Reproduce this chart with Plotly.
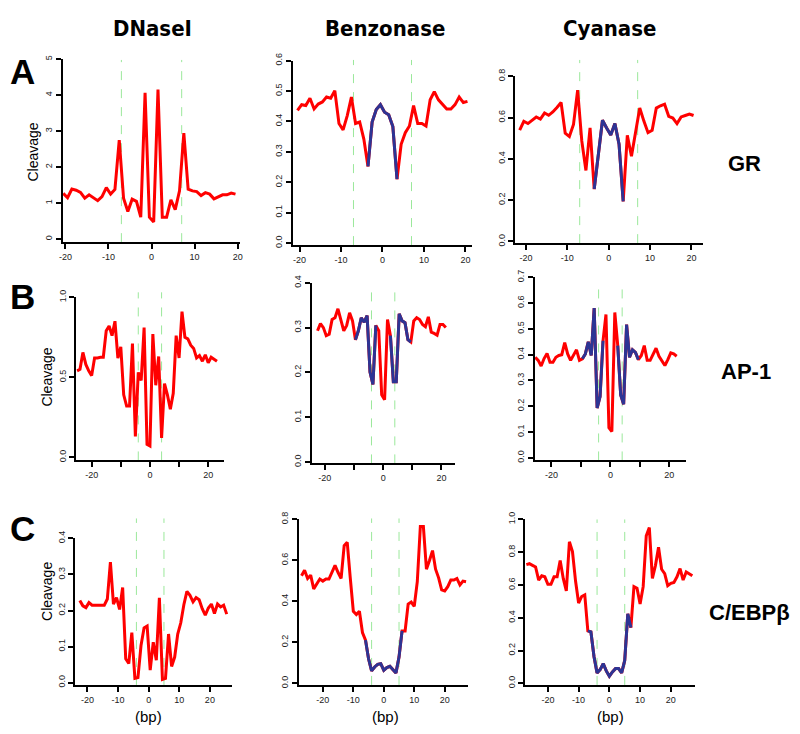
import numpy as np
import plotly.graph_objects as go

PAGE_W, PAGE_H = 800, 734
OFF = 8                      # default body margin of the html page
W, H = PAGE_W - 2 * OFF, PAGE_H - 2 * OFF

# ---------------- data ----------------
# GR motif
GR_DNASE_START = -20.5
GR_DNASE = [1.27, 1.15, 1.39, 1.36, 1.30, 1.14, 1.23, 1.16, 1.07, 1.18,
            1.43, 1.25, 1.38, 2.75, 1.14, 0.77, 1.11, 1.05, 0.61, 4.06,
            0.61, 0.48, 4.15, 0.61, 0.61, 1.09, 0.82, 1.34, 2.94, 1.39,
            1.34, 1.32, 1.21, 1.29, 1.25, 1.12, 1.18, 1.23, 1.23, 1.28, 1.25]

GR_BENZ_START = -20.5
GR_BENZ = [0.436, 0.455, 0.452, 0.476, 0.441, 0.457, 0.464, 0.480, 0.476, 0.501,
           0.393, 0.372, 0.419, 0.480, 0.393, 0.398, 0.342, 0.252, 0.398, 0.439,
           0.455, 0.430, 0.422, 0.383, 0.210, 0.325, 0.363, 0.385, 0.452, 0.393,
           0.393, 0.385, 0.471, 0.498, 0.471, 0.455, 0.441, 0.441, 0.455, 0.480,
           0.462, 0.466]

GR_CYAN_START = -21.5
GR_CYAN = [0.539, 0.582, 0.571, 0.587, 0.603, 0.593, 0.622, 0.611, 0.627, 0.649,
           0.673, 0.524, 0.508, 0.567, 0.733, 0.487, 0.344, 0.550, 0.254, 0.420,
           0.587, 0.550, 0.516, 0.571, 0.471, 0.194, 0.514, 0.413, 0.535, 0.646,
           0.583, 0.527, 0.538, 0.646, 0.657, 0.665, 0.606, 0.598, 0.571, 0.603,
           0.610, 0.617, 0.610]

# AP-1 motif
AP1_DNASE_START = -25
AP1_DNASE = [0.54, 0.55, 0.655, 0.58, 0.54, 0.51, 0.62, 0.62, 0.625, 0.625,
             0.79, 0.82, 0.76, 0.85, 0.62, 0.69, 0.39, 0.32, 0.32, 0.71,
             0.13, 0.53, 0.48, 0.81, 0.08, 0.07, 0.77, 0.45, 0.63, 0.12,
             0.46, 0.39, 0.30, 0.40, 0.76, 0.62, 0.91, 0.75, 0.74, 0.70,
             0.68, 0.62, 0.635, 0.60, 0.64, 0.59, 0.625, 0.61, 0.60]

AP1_BENZ_START = -22.5
AP1_BENZ = [0.293, 0.309, 0.300, 0.282, 0.285, 0.318, 0.322, 0.342, 0.317, 0.293,
            0.305, 0.333, 0.315, 0.273, 0.293, 0.322, 0.312, 0.327, 0.201, 0.173,
            0.305, 0.293, 0.150, 0.139, 0.318, 0.282, 0.179, 0.179, 0.331, 0.315,
            0.311, 0.273, 0.268, 0.315, 0.322, 0.318, 0.307, 0.302, 0.324, 0.290,
            0.287, 0.283, 0.307, 0.307, 0.300]

AP1_CYAN_START = -25.5
AP1_CYAN = [0.390, 0.378, 0.356, 0.385, 0.405, 0.371, 0.371, 0.390, 0.397, 0.400,
            0.447, 0.403, 0.378, 0.397, 0.419, 0.378, 0.384, 0.403, 0.450, 0.397,
            0.581, 0.193, 0.238, 0.454, 0.556, 0.117, 0.102, 0.564, 0.435, 0.244,
            0.208, 0.517, 0.390, 0.419, 0.409, 0.381, 0.397, 0.435, 0.378, 0.378,
            0.403, 0.425, 0.394, 0.378, 0.358, 0.381, 0.407, 0.403, 0.394]

# C/EBPbeta motif
CEBP_DNASE_START = -22.5
CEBP_DNASE = [0.228, 0.213, 0.208, 0.222, 0.215, 0.215, 0.215, 0.213, 0.215, 0.232,
              0.334, 0.218, 0.236, 0.203, 0.264, 0.066, 0.053, 0.139, 0.012, 0.014,
              0.103, 0.152, 0.157, 0.035, 0.112, 0.062, 0.235, 0.009, 0.012, 0.135,
              0.045, 0.071, 0.135, 0.166, 0.216, 0.253, 0.242, 0.224, 0.236, 0.230,
              0.205, 0.187, 0.207, 0.218, 0.192, 0.218, 0.210, 0.215, 0.190]

CEBP_BENZ_START = -27
CEBP_BENZ = [0.525, 0.552, 0.512, 0.528, 0.461, 0.483, 0.509, 0.499, 0.509, 0.509,
             0.547, 0.576, 0.541, 0.512, 0.672, 0.688, 0.515, 0.352, 0.336, 0.352,
             0.248, 0.211, 0.120, 0.061, 0.080, 0.093, 0.096, 0.064, 0.077, 0.083,
             0.067, 0.051, 0.128, 0.256, 0.256, 0.387, 0.397, 0.376, 0.496, 0.765,
             0.765, 0.557, 0.600, 0.648, 0.557, 0.515, 0.456, 0.451, 0.472, 0.504,
             0.504, 0.512, 0.480, 0.499, 0.496]

CEBP_CYAN_START = -27
CEBP_CYAN = [0.724, 0.730, 0.720, 0.710, 0.630, 0.656, 0.650, 0.604, 0.604, 0.650,
             0.650, 0.750, 0.640, 0.564, 0.864, 0.804, 0.624, 0.490, 0.530, 0.540,
             0.320, 0.314, 0.164, 0.064, 0.084, 0.120, 0.076, 0.044, 0.070, 0.090,
             0.090, 0.064, 0.140, 0.424, 0.340, 0.590, 0.580, 0.484, 0.590, 0.900,
             0.950, 0.640, 0.720, 0.830, 0.696, 0.670, 0.596, 0.610, 0.616, 0.650,
             0.700, 0.630, 0.680, 0.670, 0.656]

# protected (blue) stretches and motif borders (green dashed lines)
GR_BLUE = [(-3.5, 3.5)]
AP1_BLUE = [(-9.5, -2.5), (2.5, 9.5)]
CEBP_BENZ_BLUE = [(-6, 6)]
CEBP_CYAN_BLUE = [(-7, 7)]
GR_MOTIF = [-7, 7]
AP1_MOTIF = [-4, 4]
CEBP_MOTIF = [-4, 5]

X_TICKS = [-20, -10, 0, 10, 20]
X_LABELS_FULL = ["-20", "-10", "0", "10", "20"]
X_LABELS_SPARSE = ["-20", "", "0", "", "20"]

COLUMNS = ["DNaseI", "Benzonase", "Cyanase"]
ROWS = ["A", "B", "C"]
FACTORS = ["GR", "AP-1", "C/EBPβ"]

RED = "#FF0000"
BLUE = "#2D3494"
GREEN = "#9BE89B"
FONT = "Liberation Sans, Arial, sans-serif"
NARROW = "DejaVu Sans Condensed, Liberation Sans, sans-serif"

# ------- panel layout (page pixel boxes: L, R, T, B; gtop = top of motif lines) -------
panels = [
    dict(start=GR_DNASE_START, vals=GR_DNASE, blue=[], motif=GR_MOTIF,
         yt=[0, 1, 2, 3, 4, 5], yl=["0", "1", "2", "3", "4", "5"], xl=X_LABELS_FULL,
         box=(59, 238, 51.7, 238), gtop=52.7, xr=[-20.65, 20.6], yr=[-0.082, 5.0]),
    dict(start=GR_BENZ_START, vals=GR_BENZ, blue=GR_BLUE, motif=GR_MOTIF,
         yt=[0, 0.1, 0.2, 0.3, 0.4, 0.5, 0.6], yl=["0.0", "0.1", "0.2", "0.3", "0.4", "0.5", "0.6"],
         xl=X_LABELS_FULL, box=(290.7, 472, 53.3, 241), gtop=52.7,
         xr=[-21.7, 21.7], yr=[-0.0065, 0.6]),
    dict(start=GR_CYAN_START, vals=GR_CYAN, blue=GR_BLUE, motif=GR_MOTIF,
         yt=[0, 0.2, 0.4, 0.6, 0.8], yl=["0.0", "0.2", "0.4", "0.6", "0.8"],
         xl=X_LABELS_FULL, box=(515, 704, 69.3, 239), gtop=52.7,
         xr=[-22.6, 22.7], yr=[-0.008, 0.8]),
    dict(start=AP1_DNASE_START, vals=AP1_DNASE, blue=[], motif=AP1_MOTIF,
         yt=[0, 0.5, 1.0], yl=["0.0", "0.5", "1.0"],
         xl=X_LABELS_SPARSE, box=(72.7, 221.3, 294, 460), gtop=289,
         xr=[-25.3, 25.3], yr=[-0.02, 1.0]),
    dict(start=AP1_BENZ_START, vals=AP1_BENZ, blue=AP1_BLUE, motif=AP1_MOTIF,
         yt=[0, 0.1, 0.2, 0.3, 0.4], yl=["0.0", "0.1", "0.2", "0.3", "0.4"],
         xl=X_LABELS_SPARSE, box=(310, 454, 279.3, 463), gtop=283,
         xr=[-24.5, 24.5], yr=[-0.0029, 0.4]),
    dict(start=AP1_CYAN_START, vals=AP1_CYAN, blue=AP1_BLUE, motif=AP1_MOTIF,
         yt=[0, 0.1, 0.2, 0.3, 0.4, 0.5, 0.6, 0.7],
         yl=["0.0", "0.1", "0.2", "0.3", "0.4", "0.5", "0.6", "0.7"],
         xl=X_LABELS_SPARSE, box=(535, 687, 273.8, 460), gtop=283,
         xr=[-25.6, 25.6], yr=[-0.0103, 0.7]),
    dict(start=CEBP_DNASE_START, vals=CEBP_DNASE, blue=[], motif=CEBP_MOTIF,
         yt=[0, 0.1, 0.2, 0.3, 0.4], yl=["0.0", "0.1", "0.2", "0.3", "0.4"],
         xl=X_LABELS_FULL, box=(71.7, 229.6, 539.3, 688.3), gtop=519,
         xr=[-24, 27.2], yr=[-0.0063, 0.4]),
    dict(start=CEBP_BENZ_START, vals=CEBP_BENZ, blue=CEBP_BENZ_BLUE, motif=CEBP_MOTIF,
         yt=[0, 0.2, 0.4, 0.6, 0.8], yl=["0.0", "0.2", "0.4", "0.6", "0.8"],
         xl=X_LABELS_FULL, box=(297.3, 468, 520, 688.3), gtop=519,
         xr=[-27.8, 27.8], yr=[-0.0077, 0.8]),
    dict(start=CEBP_CYAN_START, vals=CEBP_CYAN, blue=CEBP_CYAN_BLUE, motif=CEBP_MOTIF,
         yt=[0, 0.2, 0.4, 0.6, 0.8, 1.0], yl=["0.0", "0.2", "0.4", "0.6", "0.8", "1.0"],
         xl=X_LABELS_FULL, box=(525.4, 696.7, 520, 688.3), gtop=520,
         xr=[-27.3, 28], yr=[-0.0096, 1.0]),
]


def fx(px):
    return (px - OFF) / W


def fy(py):
    return 1 - (py - OFF) / H


fig = go.Figure()
shapes = []
tickfont = dict(family=FONT, size=9, color="#222222")

for k, p in enumerate(panels, start=1):
    xn = "x" if k == 1 else f"x{k}"
    yn = "y" if k == 1 else f"y{k}"
    vals = np.array(p["vals"], dtype=float)
    xs = p["start"] + np.arange(len(vals))

    fig.add_trace(go.Scatter(x=xs, y=vals, mode="lines",
                             line=dict(color=RED, width=3),
                             xaxis=xn, yaxis=yn, showlegend=False, hoverinfo="skip"))
    for lo, hi in p["blue"]:
        m = (xs >= lo - 1e-9) & (xs <= hi + 1e-9)
        fig.add_trace(go.Scatter(x=xs[m], y=vals[m], mode="lines",
                                 line=dict(color=BLUE, width=3),
                                 xaxis=xn, yaxis=yn, showlegend=False, hoverinfo="skip"))

    L, R, T, B = p["box"]
    dx0, dx1 = fx(L), fx(R)
    dy0, dy1 = fy(B), fy(T)
    fig.layout["xaxis" if k == 1 else f"xaxis{k}"] = dict(
        domain=[dx0, dx1], range=p["xr"], anchor=yn,
        tickmode="array", tickvals=X_TICKS, ticktext=p["xl"],
        ticks="outside", ticklen=5, tickwidth=1.5, tickcolor="black",
        showline=True, linecolor="black", linewidth=2,
        showgrid=False, zeroline=False, tickfont=tickfont)
    fig.layout["yaxis" if k == 1 else f"yaxis{k}"] = dict(
        domain=[dy0, dy1], range=p["yr"], anchor=xn,
        tickmode="array", tickvals=p["yt"], ticktext=p["yl"], tickangle=-90,
        ticks="outside", ticklen=5, tickwidth=1.5, tickcolor="black",
        showline=True, linecolor="black", linewidth=2,
        showgrid=False, zeroline=False, tickfont=tickfont)

    xr0, xr1 = p["xr"]

    def px_x(v):   # axis value -> paper fraction
        return dx0 + (v - xr0) / (xr1 - xr0) * (dx1 - dx0)

    for mx in p["motif"]:
        shapes.append(dict(type="line", xref="paper", x0=px_x(mx), x1=px_x(mx),
                           yref="paper", y0=dy0, y1=fy(p["gtop"]), layer="below",
                           line=dict(color=GREEN, width=1, dash="dash")))

ann = []


def text(s, px, py, size, bold=False, angle=0, family=FONT):
    ann.append(dict(text=f"<b>{s}</b>" if bold else s, x=fx(px), y=fy(py),
                    xref="paper", yref="paper", xanchor="center", yanchor="middle",
                    showarrow=False, textangle=angle,
                    font=dict(family=family, size=size, color="black")))


for name, cx in zip(COLUMNS, [150, 384, 610]):
    text(name, cx, 21, 22, bold=True, family=NARROW)
for letter, cy in zip(ROWS, [64, 293, 529]):
    text(letter, 19, cy, 35, bold=True)
for fac, (cx, cy) in zip(FACTORS, [(746, 158), (748, 370), (751, 615)]):
    text(fac, cx, cy, 22, bold=True)
for cx, cy in [(29, 146), (43, 375), (43, 593)]:
    text("Cleavage", cx, cy, 14, angle=-90)
for cx in [146, 384, 611]:
    text("(bp)", cx, 720, 15)

fig.update_layout(width=W, height=H, margin=dict(l=0, r=0, t=0, b=0),
                  paper_bgcolor="white", plot_bgcolor="rgba(0,0,0,0)",
                  shapes=shapes, annotations=ann, showlegend=False)

fig.write_html("out.html")
